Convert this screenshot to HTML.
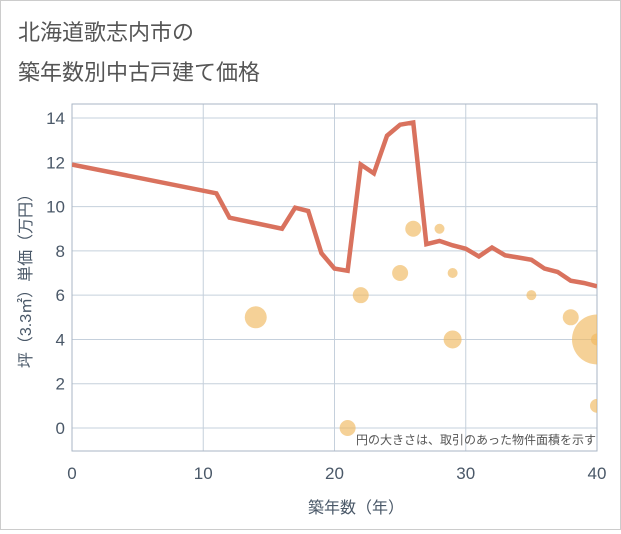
<!DOCTYPE html>
<html><head><meta charset="utf-8"><style>
body{margin:0;background:#fff;font-family:"Liberation Sans","Noto Sans CJK JP",sans-serif;}
#wrap{position:relative;width:619px;height:528px;border:1px solid #ccc;}
</style></head><body>
<div id="wrap">
<svg width="619" height="528" xmlns="http://www.w3.org/2000/svg">
<text x="17" y="39" font-size="22" fill="#555" font-family="Liberation Sans, Noto Sans CJK JP, sans-serif">北海道歌志内市の</text>
<text x="17" y="79" font-size="22" fill="#555" font-family="Liberation Sans, Noto Sans CJK JP, sans-serif">築年数別中古戸建て価格</text>
<defs><clipPath id="pc"><rect x="71" y="103" width="525" height="347"/></clipPath></defs>
<g id="grid"></g>
<g id="bubbles" clip-path="url(#pc)"></g>
<g id="line" clip-path="url(#pc)"></g>
<g id="labels"></g>
<text x="595" y="443" font-size="12" fill="#555" text-anchor="end" font-family="Liberation Sans, Noto Sans CJK JP, sans-serif">円の大きさは、取引のあった物件面積を示す</text>
<text x="355" y="512" font-size="16" fill="#4a5868" text-anchor="middle" font-family="Liberation Sans, Noto Sans CJK JP, sans-serif">築年数（年）</text>
<text transform="translate(30,276) rotate(-90)" font-size="16" fill="#4a5868" text-anchor="middle" font-family="Liberation Sans, Noto Sans CJK JP, sans-serif">坪（3.3㎡）単価（万円）</text>
</svg></div>
<script>
const lineYears=[0,11,12,16,17,18,19,20,21,22,23,24,25,26,27,28,29,30,31,32,33,34,35,36,37,38,39,40];
const lineValues=[11.9,10.6,9.5,9.0,9.95,9.8,7.9,7.2,7.1,11.9,11.5,13.2,13.7,13.8,8.3,8.45,8.25,8.1,7.75,8.15,7.8,7.7,7.6,7.2,7.05,6.65,6.55,6.4];
const bubbleYears=[14,21,22,25,26,28,29,29,35,38,40,40,40];
const bubbleValues=[5,0,6,7,9,9,7,4,6,5,4,1,4];
const bubbleSizes=[11,8,8,8,8,5,5,9,5,8,25,7,6];
const xTicks=[0,10,20,30,40];
const yTicks=[0,2,4,6,8,10,12,14];
const NS="http://www.w3.org/2000/svg";
const X=v=>71+v*(525/40);
const Y=v=>427-v*22.14;
function mk(t,a,p){const e=document.createElementNS(NS,t);for(const k in a)e.setAttribute(k,a[k]);p.appendChild(e);return e;}
const grid=document.getElementById('grid'),lab=document.getElementById('labels');
for(const t of xTicks){const l=mk('line',{x1:X(t),x2:X(t),y1:103,y2:450,stroke:'#c5d0dc','stroke-width':1},grid);


const tx=mk('text',{x:X(t),y:478,'font-size':17,fill:'#4a5868','text-anchor':'middle'},lab);tx.textContent=t;

}
for(const t of yTicks){const l=mk('line',{x1:71,x2:596,y1:Y(t),y2:Y(t),stroke:'#c5d0dc','stroke-width':1},grid);


const tx=mk('text',{x:64,y:Y(t)+6,'font-size':17,fill:'#4a5868','text-anchor':'end'},lab);tx.textContent=t;

}
const fr=mk('rect',{x:71,y:103,width:525,height:347,fill:'none',stroke:'#aab6c4'},grid);


const bg=document.getElementById('bubbles');
bubbleYears.forEach((yr,i)=>{const c=mk('circle',{cx:X(yr),cy:Y(bubbleValues[i]),r:bubbleSizes[i],fill:'#f0b860','fill-opacity':0.65},bg);

});
const pts=lineYears.map((yr,i)=>X(yr)+','+Y(lineValues[i])).join(' ');
const pl=mk('polyline',{points:pts,fill:'none',stroke:'#d9725e','stroke-width':4.5,'stroke-linejoin':'miter'},document.getElementById('line'));


</script>
</body></html>
